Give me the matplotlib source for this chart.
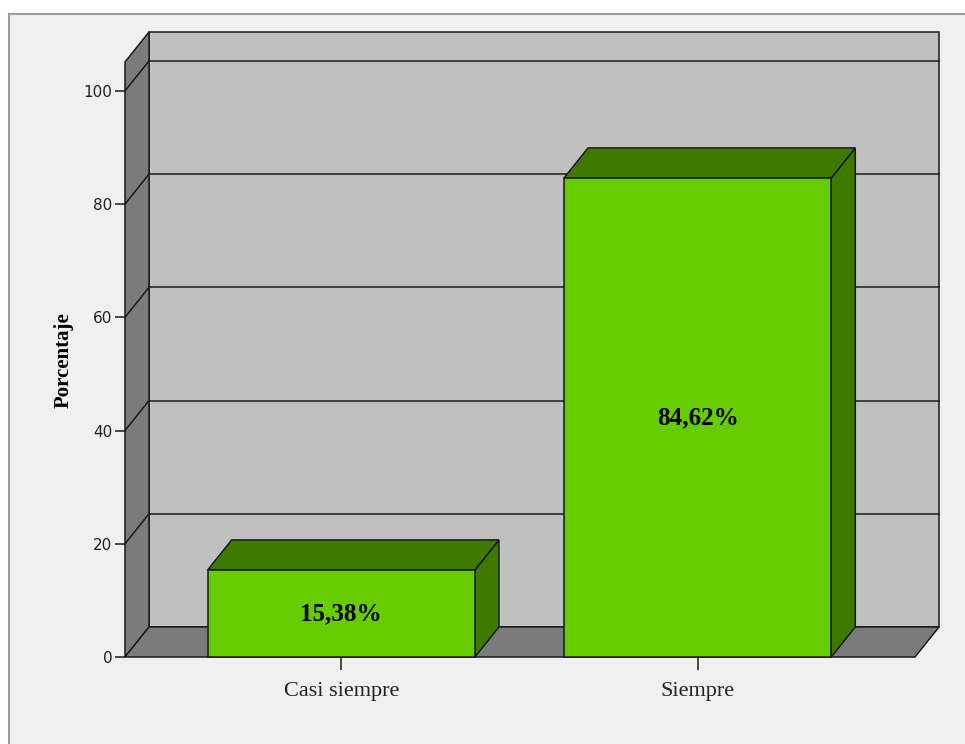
import matplotlib.pyplot as plt
from matplotlib.patches import Polygon, Rectangle

categories = ['Casi siempre', 'Siempre']
percent = [15.38, 84.62]
value_labels = ['15,38%', '84,62%']
yticks = [0, 20, 40, 60, 80, 100]

# box geometry in data units
x_left, x_right = -0.607, 1.610
y_top = 105.1
dx, dy = 0.0674, 5.3
bar_w = 0.75

edge = '#1a1a1a'
wall_back = '#c0c0c0'
wall_side = '#7b7b7b'
bar_front = '#66cc00'
bar_dark = '#3e7a00'

fig = plt.figure(figsize=(9.65, 7.44), dpi=100)
fig.patch.set_facecolor('white')
fig.patches.append(Rectangle((9/965, -0.01), 1.0, 1 - 14/744 + 0.01,
                             transform=fig.transFigure, facecolor='#f0f0f0',
                             edgecolor='#9a9a9a', lw=1.5, zorder=-10))

ax = fig.add_axes([125/965, 87/744, 814/965, 625/744])
ax.set_facecolor('none')
ax.set_xlim(x_left, x_right + dx)
ax.set_ylim(0, y_top + dy)
for s in ax.spines.values():
    s.set_visible(False)

def poly(pts, fc, z):
    ax.add_patch(Polygon(pts, closed=True, facecolor=fc, edgecolor=edge,
                         lw=1.1, joinstyle='miter', zorder=z, clip_on=False))

# walls and floor
poly([(x_left + dx, dy), (x_right + dx, dy), (x_right + dx, y_top + dy),
      (x_left + dx, y_top + dy)], wall_back, 1)
poly([(x_left, 0), (x_left, y_top), (x_left + dx, y_top + dy),
      (x_left + dx, dy)], wall_side, 1)
poly([(x_left, 0), (x_right, 0), (x_right + dx, dy), (x_left + dx, dy)],
     wall_side, 1)

for v in yticks[1:]:
    ax.plot([x_left + dx, x_right + dx], [v + dy, v + dy], color=edge,
            lw=1.1, zorder=2, clip_on=False)
    ax.plot([x_left, x_left + dx], [v, v + dy], color=edge, lw=1.1,
            zorder=2, clip_on=False)

# bars
for i, (v, lab) in enumerate(zip(percent, value_labels)):
    l, r = i - bar_w / 2, i + bar_w / 2
    poly([(r, 0), (r + dx, dy), (r + dx, v + dy), (r, v)], bar_dark, 3)
    poly([(l, v), (r, v), (r + dx, v + dy), (l + dx, v + dy)], bar_dark, 3)
    poly([(l, 0), (r, 0), (r, v), (l, v)], bar_front, 4)
    ax.text(i, v / 2, lab, ha='center', va='center', fontsize=18,
            fontweight='bold', family='Liberation Serif', zorder=5)

ax.set_yticks(yticks)
ax.set_yticklabels([str(t) for t in yticks], fontsize=11,
                   family='DejaVu Sans', color='#222222')
ax.tick_params(axis='y', length=7.2, width=1.1, pad=2, color=edge)
ax.set_xticks(range(len(categories)))
ax.set_xticklabels(categories, fontsize=16, family='Liberation Serif',
                   color='#222222')
ax.tick_params(axis='x', length=9.4, width=1.1, pad=8.5, color=edge)

ax.set_ylabel('Porcentaje', fontsize=15, fontweight='bold',
              family='Liberation Serif')
ax.yaxis.set_label_coords(-0.0625, 0.475)

fig.savefig('out.png', dpi=100, facecolor=fig.get_facecolor())
